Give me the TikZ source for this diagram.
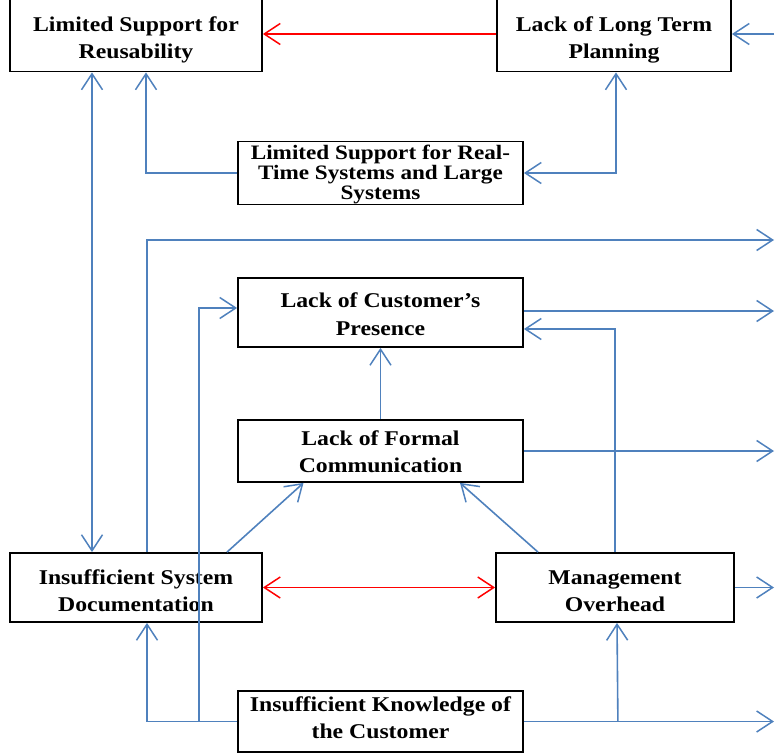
\documentclass[tikz,border=0pt]{standalone}
\usepackage{fontspec}
\newfontfamily\boxfont{Liberation Serif}[FakeStretch=1.13]
\usetikzlibrary{arrows.meta}
\definecolor{lblue}{RGB}{79,129,189}
\newcommand\bxt[2]{\raisebox{\dimexpr #1pt-7.75pt\relax}[0pt][0pt]{\begin{tabular}{@{}c@{}}#2\end{tabular}}}
\tikzset{
  box/.style={draw=black, line width=1.8pt, fill=white, inner sep=0pt,
    font=\boxfont\bfseries\fontsize{21pt}{27.5pt}\selectfont},
  tight/.style={font=\boxfont\bfseries\fontsize{20.5pt}{20pt}\selectfont},
  barb/.tip={Straight Barb[length=16pt,width=21pt,line width=1.5pt]},
  bl/.style={draw=lblue, line width=1.6pt},
  rd/.style={draw=red, line width=1.5pt},
}
\begin{document}
\begin{tikzpicture}[x=1pt,y=-1pt]
\useasboundingbox (0,0) rectangle (775,754);
% nodes
\node[box, minimum width=252pt, minimum height=75pt] (lsr) at (136,34) {\bxt{-3}{Limited Support for\\Reusability}};
\node[box, minimum width=234pt, minimum height=75pt] (lltp) at (614,34) {\bxt{-3}{Lack of Long Term\\Planning}};
\node[box, tight, minimum width=285pt, minimum height=63pt] (lsrt) at (380.5,173) {\bxt{0}{Limited Support for Real-\\Time Systems and Large\\Systems}};
\node[box, minimum width=285pt, minimum height=69pt] (lcp) at (380.5,312.5) {\bxt{-1}{Lack of Customer’s\\Presence}};
\node[box, minimum width=285pt, minimum height=62pt] (lfc) at (380.5,451) {\bxt{0}{Lack of Formal\\Communication}};
\node[box, minimum width=252pt, minimum height=69pt] (isd) at (136,587.5) {\bxt{-2.5}{Insufficient System\\Documentation}};
\node[box, minimum width=238pt, minimum height=69pt] (mo) at (615,587.5) {\bxt{-2.5}{Management\\Overhead}};
\node[box, minimum width=285pt, minimum height=61pt] (isk) at (380.5,721.5) {\bxt{4.5}{Insufficient Knowledge of\\the Customer}};
% free ends at the right edge
\coordinate (o1) at (774,34);
\coordinate (o2) at (774,240);
\coordinate (o3) at (774,311);
\coordinate (o4) at (774,451);
\coordinate (o5) at (774,587.5);
\coordinate (o6) at (774,721.5);
\coordinate (tl) at (147,240);
\path (isk.west) -- ++(-38,0) coordinate (b1);
\path (isk.east) -- ++(94,0) coordinate (b2);
% connectors
\draw[rd, -{barb}] (lltp.west) -- (lsr.east);
\draw[bl, -{barb}] (o1) -- (lltp.east);
\draw[bl, -{barb}] (lsrt.west) -| ([xshift=10pt]lsr.south);
\draw[bl, {barb}-{barb}] (lsrt.east) -| ([xshift=2pt]lltp.south);
\draw[bl, {barb}-{barb}] ([xshift=-44pt]lsr.south) -- ([xshift=-44pt]isd.north);
\draw[bl, -{barb}] ([xshift=11pt]isd.north) -- (tl) -- (o2);
\draw[bl, -{barb}] (isk.west) -| ([xshift=11pt]isd.south);
\draw[bl, -{barb}] (b1) |- ([yshift=4.5pt]lcp.west);
\draw[bl, -{barb}] (lcp.east |- o3) -- (o3);
\draw[bl, -{barb}] (mo.north) |- ([yshift=-16.5pt]lcp.east);
\draw[bl, -{barb}] (lfc.north) -- (lcp.south);
\draw[bl, -{barb}] (lfc.east) -- (o4);
\draw[bl, -{barb}] ([xshift=91pt]isd.north) -- ([xshift=-77pt]lfc.south);
\draw[bl, -{barb}] ([xshift=-77pt]mo.north) -- ([xshift=79.5pt]lfc.south);
\draw[rd, {barb}-{barb}] (isd.east) -- (mo.west);
\draw[bl, -{barb}] (mo.east) -- (o5);
\draw[bl, -{barb}] (isk.east) -- (o6);
\draw[bl, -{barb}] (b2) -- ([xshift=2pt]mo.south);
\end{tikzpicture}
\end{document}
